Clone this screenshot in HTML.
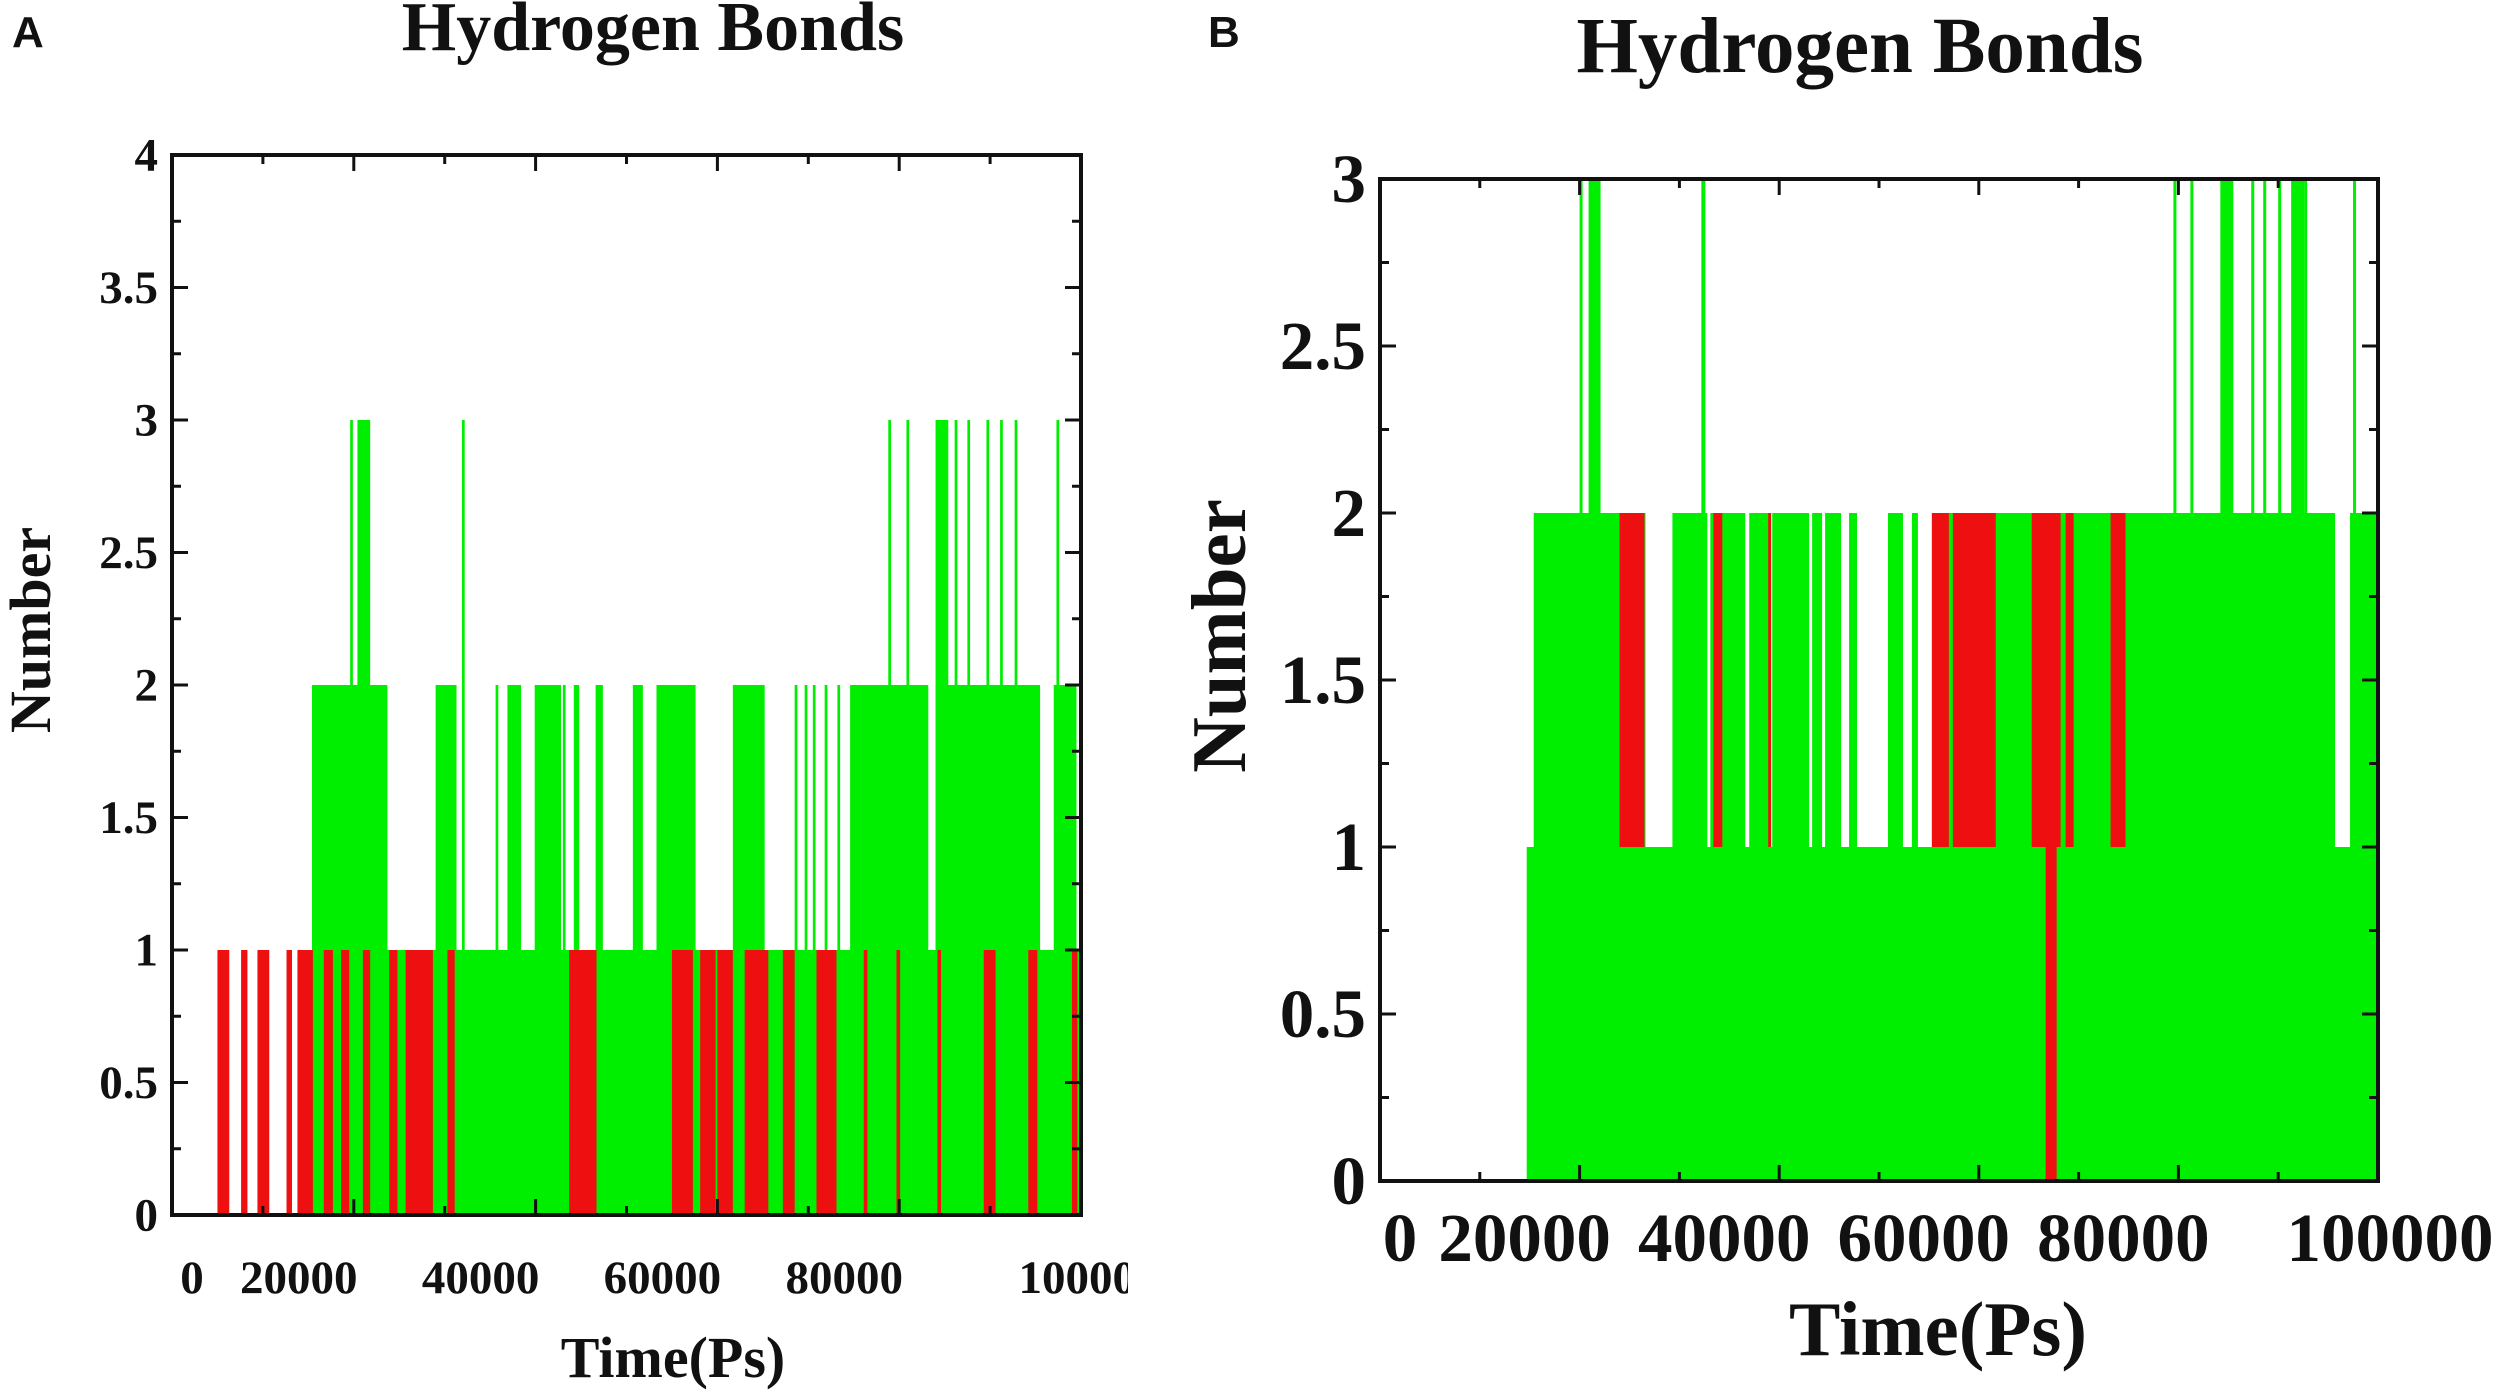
<!DOCTYPE html>
<html><head><meta charset="utf-8"><style>
html,body{margin:0;padding:0;background:#fff;}
svg{display:block;}
text{font-family:"Liberation Serif",serif;font-weight:bold;fill:#111;}
.pl{font-family:"Liberation Sans",sans-serif;}
</style></head><body>
<svg id="chart" width="2500" height="1393" viewBox="0 0 2500 1393" xmlns="http://www.w3.org/2000/svg">
<defs>
<clipPath id="clipA"><rect x="0" y="0" width="1128" height="1393"/></clipPath>
</defs>
<g id="panelA" clip-path="url(#clipA)"></g>
<g id="panelB"></g>
<text class="pl" x="12" y="47" font-size="44">A</text>
<text class="pl" x="1208" y="47" font-size="44">B</text>
</svg>
<script>
// Panel A data (time in ps, values = number of H-bonds)
const aGreenStart=[15400,19600,20400,15400,29000,31900,30000,35600,36900,39900,43000,44200,46600,50700,53300,57100,61700,68500,69600,70500,71800,73200,74600,78800,80800,84000,84000,86100,87500,89600,91100,92700,97000,97300];
const aGreenEnd  =[23700,19900,21800,100000,30800,32200,31300,35900,38400,42800,43300,44800,47400,51800,57600,57400,65200,68800,69900,70800,72100,73500,83200,79100,81100,95500,85400,86400,87800,89900,91400,93000,99500,97600];
const aGreenTop  =[2,3,3,1,2,3,2,2,2,2,2,2,2,2,2,2,2,2,2,2,2,2,2,3,3,2,3,3,3,3,3,3,2,3];
const aRedStart=[5000,7600,9400,12600,13800,16700,18600,21000,23900,25700,30300,43700,55000,58100,60000,63000,67200,70900,76100,79700,84200,89300,94200,99000];
const aRedEnd  =[6300,8300,10700,13200,15500,17700,19500,21800,24800,28700,31100,46700,57300,59800,61700,65600,68500,73100,76500,80100,84600,90600,95200,99600];
const aRedBottom=[0,0,0,0,0,0,0,0,0,0,0,0,0,0,0,0,0,0,0,0,0,0,0,0];
const aRedTop  =[1,1,1,1,1,1,1,1,1,1,1,1,1,1,1,1,1,1,1,1,1,1,1,1];
const aYTicks=[0,0.5,1,1.5,2,2.5,3,3.5,4];
const aYLabels=["0","0.5","1","1.5","2","2.5","3","3.5","4"];
const aXTicks=[0,20000,40000,60000,80000,100000];
const aXLabels=["0","20000","40000","60000","80000","100000"];

// Panel B data
const bGreenStart=[14700,15400,20000,20900,32200,79500,81200,84200,87300,88500,90000,91300,92600,97500];
const bGreenEnd  =[99800,99800,20300,22100,32600,79800,81500,85500,87600,88800,90300,92600,92900,97800];
const bGreenTop  =[1,2,3,3,3,3,3,3,3,3,3,3,3,3];
const bGapStart=[26600,32800,36600,39000,43000,44300,46200,47800,52400,53900,95700];
const bGapEnd  =[29300,33100,37000,39300,43300,44600,47000,50900,53300,55300,97200];
const bRedStart=[24000,33400,38900,55300,57400,65300,68700,73200,66700];
const bRedEnd  =[26500,34300,39200,57000,61700,68200,69500,74700,67800];
const bRedBottom=[1,1,1,1,1,1,1,1,0];
const bRedTop  =[2,2,2,2,2,2,2,2,2];
const bYTicks=[0,0.5,1,1.5,2,2.5,3];
const bYLabels=["0","0.5","1","1.5","2","2.5","3"];
const bXTicks=[0,20000,40000,60000,80000,100000];
const bXLabels=["0","20000","40000","60000","80000","100000"];

const NS="http://www.w3.org/2000/svg";
function mk(tag,attrs,parent){const e=document.createElementNS(NS,tag);for(const k in attrs)e.setAttribute(k,attrs[k]);parent.appendChild(e);return e;}

function drawPanel(g,cfg){
  const {x0,x1,y0,y1,ymax,gs,ge,gt,gaps,rs,re,rb,rt,yt,yl,xt,xl,fs,tfs,afs,titleX,titleY,xtX,xtY,ntX,ntY,lblOff,xlY}=cfg;
  const xs=v=>x0+(v/100000)*(x1-x0);
  const ys=v=>y1-(v/ymax)*(y1-y0);
  const green="#00ee00", red="#ee1010";
  for(let i=0;i<gs.length;i++){
    const r=mk('rect',{x:xs(gs[i]),y:ys(gt[i]),width:Math.max(2,xs(ge[i])-xs(gs[i])),height:ys(0)-ys(gt[i]),fill:green},g);
    
    
  }
  if(gaps){for(let i=0;i<gaps[0].length;i++){
    const r=mk('rect',{x:xs(gaps[0][i]),y:ys(2),width:xs(gaps[1][i])-xs(gaps[0][i]),height:ys(1)-ys(2),fill:"#fff"},g);
    
    
  }}
  for(let i=0;i<rs.length;i++){
    const r=mk('rect',{x:xs(rs[i]),y:ys(rt[i]),width:Math.max(2,xs(re[i])-xs(rs[i])),height:ys(rb[i])-ys(rt[i]),fill:red},g);
    
    
  }
  const fr=mk('rect',{x:x0,y:y0,width:x1-x0,height:y1-y0,fill:"none",stroke:"#111","stroke-width":4},g);
  
  
  for(let i=0;i<yt.length;i++){
    const y=ys(yt[i]);
    mk('line',{x1:x0,y1:y,x2:x0+16,y2:y,stroke:"#111","stroke-width":3},g);
    mk('line',{x1:x1,y1:y,x2:x1-16,y2:y,stroke:"#111","stroke-width":3},g);
    if(i<yt.length-1){const ym=ys((yt[i]+yt[i+1])/2);
      mk('line',{x1:x0,y1:ym,x2:x0+9,y2:ym,stroke:"#111","stroke-width":3},g);
      mk('line',{x1:x1,y1:ym,x2:x1-9,y2:ym,stroke:"#111","stroke-width":3},g);}
    const t=mk('text',{x:x0-14,y:y+fs*0.33,"font-size":fs,"text-anchor":"end"},g);
    t.textContent=yl[i];
    
    
  }
  for(let i=0;i<xt.length;i++){
    const x=xs(xt[i]);
    mk('line',{x1:x,y1:y1,x2:x,y2:y1-16,stroke:"#111","stroke-width":3},g);
    mk('line',{x1:x,y1:y0,x2:x,y2:y0+16,stroke:"#111","stroke-width":3},g);
    if(i<xt.length-1){const xm=xs((xt[i]+xt[i+1])/2);
      mk('line',{x1:xm,y1:y1,x2:xm,y2:y1-9,stroke:"#111","stroke-width":3},g);
      mk('line',{x1:xm,y1:y0,x2:xm,y2:y0+9,stroke:"#111","stroke-width":3},g);}
    const off=xt[i]===0?lblOff[0]:(i===xt.length-1?lblOff[2]:lblOff[1]);
    const t=mk('text',{x:x+off,y:y1+xlY,"font-size":fs,"text-anchor":"middle"},g);
    t.textContent=xl[i];
    
    
  }
  const ti=mk('text',{x:titleX,y:titleY,"font-size":tfs,"text-anchor":"middle"},g);
  ti.textContent="Hydrogen Bonds";
  
  
  const xa=mk('text',{x:xtX,y:xtY,"font-size":afs,"text-anchor":"middle"},g);
  xa.textContent="Time(Ps)";
  
  
  const ya=mk('text',{x:0,y:0,"font-size":afs,"text-anchor":"middle",transform:`translate(${ntX},${ntY}) rotate(-90)`},g);
  ya.textContent="Number";
  
  
}

drawPanel(document.getElementById('panelA'),{x0:172,x1:1081,y0:155,y1:1215,ymax:4,
  gs:aGreenStart,ge:aGreenEnd,gt:aGreenTop,gaps:null,rs:aRedStart,re:aRedEnd,rb:aRedBottom,rt:aRedTop,
  yt:aYTicks,yl:aYLabels,xt:aXTicks,xl:aXLabels,fs:47,tfs:70,afs:58,titleX:653,titleY:50,xtX:673,xtY:1377,ntX:50,ntY:630,lblOff:[20,-55,8],xlY:78});
drawPanel(document.getElementById('panelB'),{x0:1380,x1:2378,y0:179,y1:1181,ymax:3,
  gs:bGreenStart,ge:bGreenEnd,gt:bGreenTop,gaps:[bGapStart,bGapEnd],rs:bRedStart,re:bRedEnd,rb:bRedBottom,rt:bRedTop,
  yt:bYTicks,yl:bYLabels,xt:bXTicks,xl:bXLabels,fs:69,tfs:79,afs:77,titleX:1860,titleY:72,xtX:1938,xtY:1355,ntX:1245,ntY:636,lblOff:[20,-55,12],xlY:80});
</script>
</body></html>
